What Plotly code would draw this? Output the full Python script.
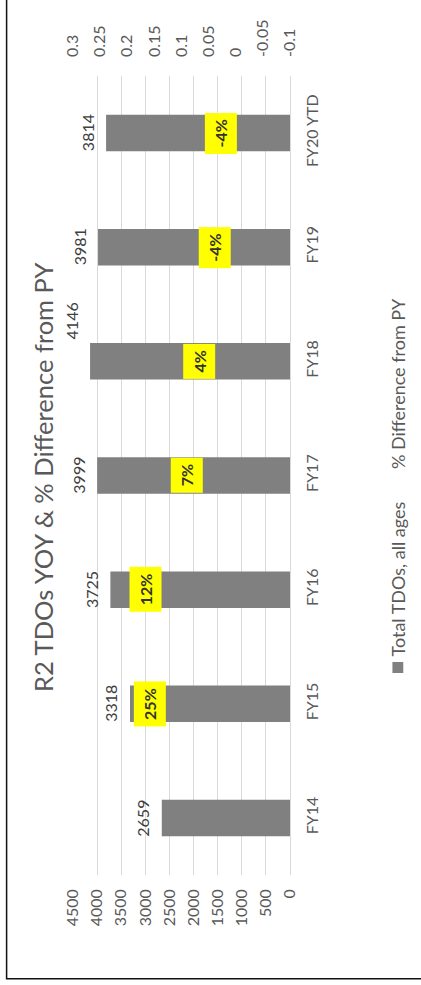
import plotly.graph_objects as go

# ---------------- data ----------------
categories = ["FY14", "FY15", "FY16", "FY17", "FY18", "FY19", "FY20 YTD"]
total_tdos = [2659, 3318, 3725, 3999, 4146, 3981, 3814]
pct_diff = [None, 0.25, 0.12, 0.07, 0.04, -0.04, -0.04]

value_ticks = [0, 500, 1000, 1500, 2000, 2500, 3000, 3500, 4000, 4500]
pct_ticks = [0.3, 0.25, 0.2, 0.15, 0.1, 0.05, 0, -0.05, -0.1]
pct_ticktext = ["0.3", "0.25", "0.2", "0.15", "0.1", "0.05", "0", "-0.05", "-0.1"]

title_text = "R2 TDOs YOY & % Difference from PY"
series_names = ["Total TDOs, all ages", "% Difference from PY"]

# --------------- styling ---------------
FONT = "Lato, 'Open Sans', sans-serif"
GREY_TXT = "#595959"
BAR_COL = "#808080"
GRID = "#d9d9d9"
# hand-moved data-label nudges (px) as in the source chart
pct_label_nudge_px = [0, 50, -25, -11, -15, -43, -37]
value_label_lift_px = [0, 0, 0, 0, 40, 0, 0]

fig = go.Figure()

fig.add_trace(go.Bar(
    x=total_tdos, y=categories, orientation="h",
    marker=dict(color=BAR_COL, line=dict(width=0)),
    width=0.32,
    name=series_names[0], showlegend=False,
    xaxis="x", yaxis="y",
))

pct_x = [v for v in pct_diff if v is not None]
pct_y = [c for c, v in zip(categories, pct_diff) if v is not None]
fig.add_trace(go.Scatter(
    x=pct_x, y=pct_y, mode="markers",
    marker=dict(size=1, opacity=0),
    name=series_names[1], showlegend=False,
    xaxis="x2", yaxis="y", hoverinfo="skip",
))

annotations = []
# value labels (outside end of each bar)
for c, v, dy in zip(categories, total_tdos, value_label_lift_px):
    annotations.append(dict(
        x=v, y=c, xref="x", yref="y",
        text=str(v), showarrow=False, textangle=-90,
        xanchor="center", yanchor="middle", xshift=-19, yshift=dy,
        font=dict(family=FONT, size=16, color="#404040"),
    ))
# percent labels
for c, v, dx in zip(categories, pct_diff, pct_label_nudge_px):
    if v is None:
        continue
    annotations.append(dict(
        x=v, y=c, xref="x2", yref="y",
        text=f"<b>{v:.0%}</b>", showarrow=False, textangle=-90,
        xshift=dx, bgcolor="#FFFF00", borderpad=6,
        font=dict(family=FONT, size=16, color="#333333"),
    ))

# title (rotated with the chart)
annotations.append(dict(
    x=-0.138, y=0.497, xref="paper", yref="paper",
    text=title_text, showarrow=False, textangle=-90,
    xanchor="center", yanchor="middle",
    font=dict(family=FONT, size=25.5, color=GREY_TXT),
))
# legend entries (rotated)
annotations.append(dict(
    x=1.498, y=0.2704, xref="paper", yref="paper",
    text=series_names[0], showarrow=False, textangle=-90,
    xanchor="center", yanchor="bottom",
    font=dict(family=FONT, size=18, color=GREY_TXT),
))
annotations.append(dict(
    x=1.498, y=0.724, xref="paper", yref="paper",
    text=series_names[1], showarrow=False, textangle=-90,
    xanchor="center", yanchor="top",
    font=dict(family=FONT, size=18, color=GREY_TXT),
))

fig.update_layout(
    width=421, height=985,
    margin=dict(l=73, r=131, t=76, b=110, pad=0),
    paper_bgcolor="white", plot_bgcolor="white",
    bargap=0.68,
    showlegend=False,
    xaxis=dict(
        range=[4500, 0], tickvals=value_ticks, tickformat="d",
        side="bottom", tickangle=-90,
        showgrid=True, gridcolor=GRID, gridwidth=1,
        zeroline=False, showline=False, ticks="",
        ticklabelstandoff=10,
        tickfont=dict(family=FONT, size=16, color=GREY_TXT),
    ),
    xaxis2=dict(
        range=[0.3, -0.1], tickvals=pct_ticks, ticktext=pct_ticktext,
        overlaying="x", side="top", tickangle=-90,
        showgrid=False, zeroline=False, showline=False, ticks="",
        ticklabelstandoff=18,
        tickfont=dict(family=FONT, size=16, color=GREY_TXT),
    ),
    yaxis=dict(
        type="category", categoryorder="array", categoryarray=categories,
        side="right", tickangle=-90,
        showgrid=False, zeroline=False,
        showline=True, linecolor=GRID, linewidth=1, ticks="",
        ticklabelstandoff=8,
        tickfont=dict(family=FONT, size=16, color=GREY_TXT),
    ),
    annotations=annotations,
    shapes=[
        dict(type="rect", xref="paper", yref="paper",
             x0=-0.306, x1=1.75, y0=-0.130, y1=1.2,
             line=dict(color="#111111", width=1.5),
             fillcolor="rgba(0,0,0,0)", layer="below"),
        # legend key for the bar series
        dict(type="rect", xref="paper", yref="paper",
             x0=1.472, x1=1.522, y0=0.2528, y1=0.2666,
             line=dict(width=0), fillcolor=BAR_COL),
    ],
)

fig.write_html("out.html", config={"displayModeBar": False},
               post_script="document.body.style.margin='0';")
